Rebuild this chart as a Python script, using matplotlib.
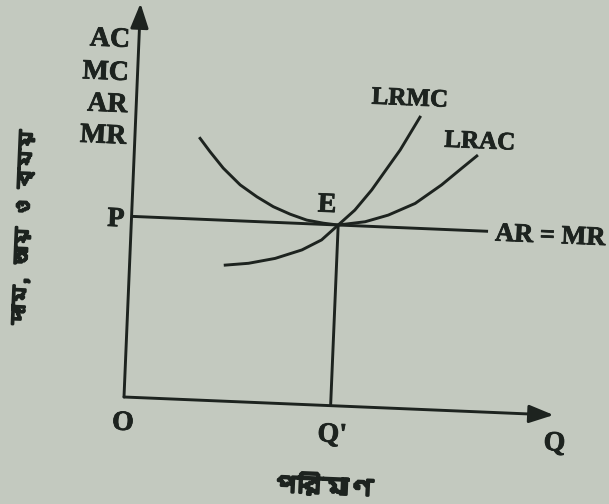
import matplotlib
matplotlib.use("Agg")
import matplotlib.pyplot as plt
from matplotlib.transforms import Affine2D
from matplotlib import font_manager
import matplotlib.patheffects as pe

# ---------------- data (economic units: quantity, price/cost) ----------------
P_PRICE = 4.52          # price level P (AR = MR)
Q_EQ = 5.17             # equilibrium quantity Q'
Y_AXIS_TOP = 9.85
X_AXIS_END = 10.75
AR_MR_END = 8.92

lrac_q = [1.63, 1.89, 2.24, 2.68, 3.11, 3.53, 3.96, 4.38, 4.80, 5.17,
          5.84, 6.41, 7.07, 7.71, 8.20, 8.56]
lrac_c = [6.54, 6.22, 5.82, 5.42, 5.14, 4.91, 4.74, 4.61, 4.55, 4.52,
          4.63, 4.82, 5.14, 5.63, 6.07, 6.39]

lrmc_q = [2.39, 2.97, 3.63, 4.29, 4.77, 5.17, 5.57, 5.97, 6.36, 6.64, 7.10]
lrmc_c = [3.40, 3.47, 3.62, 3.86, 4.13, 4.52, 4.91, 5.43, 6.03, 6.46, 7.30]

y_axis_labels = ["AC", "MC", "AR", "MR"]
y_axis_label_pos = [8.91, 8.08, 7.28, 6.49]
y_title = "দাম, আয় ও ব্যয়"
x_title = "পরিমাণ"

# ---------------- style ----------------
BG = "#c3c9bf"
INK = "#1d231f"
LW = 2.1
TILT = -2.4

def find_bengali_font():
    try:
        from fontTools.ttLib import TTFont
    except Exception:
        return None
    for f in font_manager.fontManager.ttflist:
        try:
            tt = TTFont(f.fname, fontNumber=0, lazy=True)
            cmap = tt.getBestCmap()
            if cmap and 0x09A6 in cmap and 0x09AE in cmap:
                return f.name
        except Exception:
            continue
    return None

bn_font = find_bengali_font()
bn_family = [bn_font, "DejaVu Sans"] if bn_font else ["Noto Sans", "DejaVu Sans"]
SERIF = ["Liberation Serif", "DejaVu Serif"]

W, H, DPI = 609, 504, 100
fig = plt.figure(figsize=(W / DPI, H / DPI), dpi=DPI, facecolor=BG)
ax = fig.add_axes([0, 0, 1, 1])
ax.set_facecolor(BG)
ORIG_X, ORIG_Y, SCALE = 124, 107, 40.0
ax.set_xlim(-ORIG_X / SCALE, (W - ORIG_X) / SCALE)
ax.set_ylim(-ORIG_Y / SCALE, (H - ORIG_Y) / SCALE)
ax.axis("off")

tr = ax.transData + Affine2D().rotate_deg_around(ORIG_X, ORIG_Y, TILT)

# axes with arrows
arrow = dict(arrowstyle="-|>,head_length=0.6,head_width=0.22",
             lw=LW, color=INK, mutation_scale=25, shrinkA=0, shrinkB=0)
ax.annotate("", xy=(0, Y_AXIS_TOP), xytext=(0, 0), xycoords=tr, textcoords=tr, arrowprops=arrow)
ax.annotate("", xy=(X_AXIS_END, 0), xytext=(0, 0), xycoords=tr, textcoords=tr, arrowprops=arrow)

# AR = MR line
ax.plot([0, AR_MR_END], [P_PRICE, P_PRICE], color=INK, lw=LW, transform=tr, solid_capstyle="butt")
# vertical E -> Q'
ax.plot([Q_EQ, Q_EQ], [P_PRICE, 0], color=INK, lw=LW, transform=tr, solid_capstyle="butt")
# curves
ax.plot(lrac_q, lrac_c, color=INK, lw=LW, transform=tr, solid_joinstyle="round")
ax.plot(lrmc_q, lrmc_c, color=INK, lw=LW, transform=tr, solid_joinstyle="round")

def lab(x, y, s, ha="center", va="center", size=20, family=SERIF, rot=0, weight="bold", stroke=0.6):
    ax.text(x, y, s, transform=tr, ha=ha, va=va, fontsize=size, family=family,
            fontweight=weight, color=INK, rotation=rot + TILT, rotation_mode="anchor",
            path_effects=[pe.withStroke(linewidth=stroke, foreground=INK)])

for s, yv in zip(y_axis_labels, y_axis_label_pos):
    lab(-0.22, yv, s, ha="right")
lab(-0.39, 4.42, "P")
lab(0.0, -0.66, "O")
lab(4.87, 5.0, "E")
lab(5.24, -0.74, "Q'")
lab(10.8, -0.72, "Q")
lab(6.83, 7.75, "LRMC", size=18)
lab(8.62, 6.75, "LRAC", size=18)
lab(9.1, P_PRICE - 0.06, "AR = MR", ha="left", size=19)

lab(-2.68, 4.14, y_title, size=14, family=bn_family, rot=90, weight="normal", stroke=1.8)
lab(5.07, -2.04, x_title, size=18, family=bn_family, weight="normal", stroke=2.0)

fig.savefig("out.png", dpi=DPI, facecolor=BG)
